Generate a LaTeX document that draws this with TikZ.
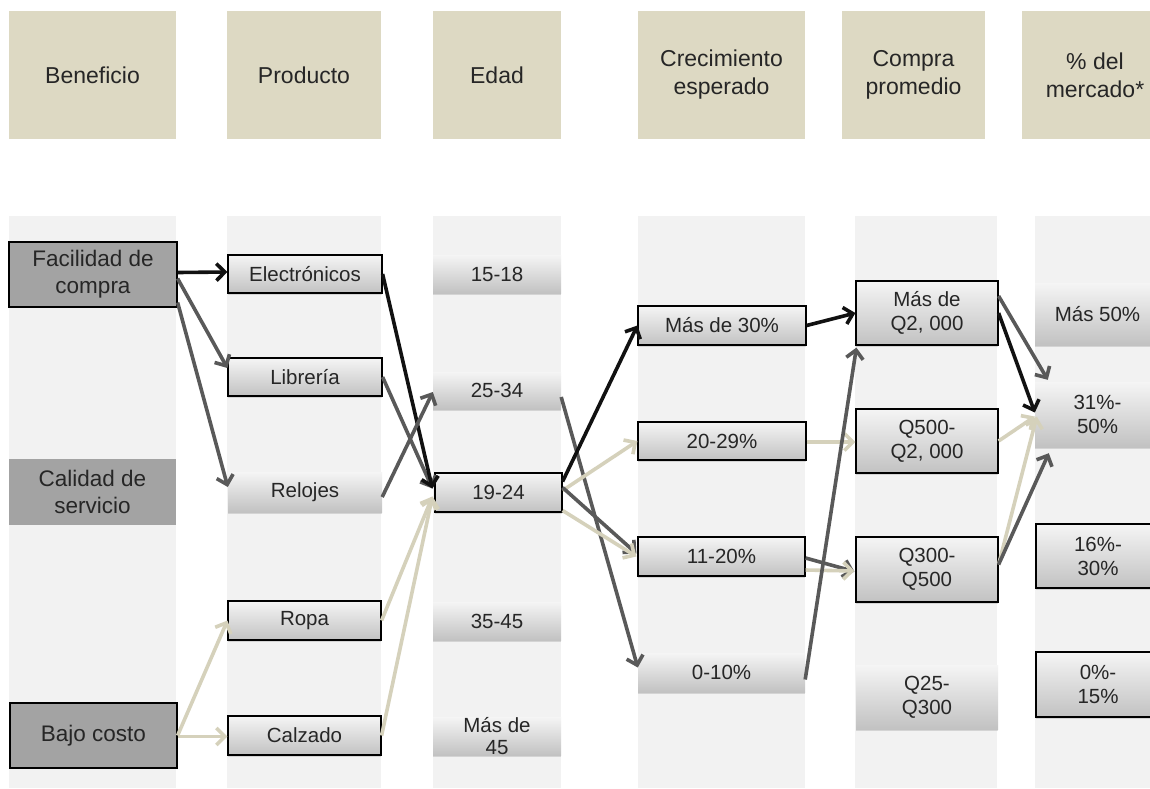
\documentclass[tikz,border=0pt]{standalone}
\usepackage{fontspec}
\setmainfont{Liberation Sans}
\usetikzlibrary{arrows.meta,calc,shadows}
\definecolor{hdr}{HTML}{DDD9C3}
\definecolor{stripc}{HTML}{F2F2F2}
\definecolor{dk}{HTML}{A3A3A3}
\definecolor{agray}{HTML}{595959}
\definecolor{atan}{HTML}{D5D1BB}
\definecolor{ablack}{HTML}{111111}
\definecolor{txt}{HTML}{262626}
\begin{document}
\begin{tikzpicture}[x=1pt,y=-1pt,
  hbox/.style={fill=hdr, inner sep=0pt, align=center, text=txt,
    font=\fontsize{23}{28}\selectfont},
  dbox/.style={fill=dk, inner sep=0pt, align=center, text=txt,
    font=\fontsize{22.5}{27}\selectfont},
  bord/.style={draw=black, line width=1.2pt},
  gbox/.style={top color=white!96!black, bottom color=white!76!black,
    inner sep=0pt, align=center, text=txt,
    font=\fontsize{20.5}{24}\selectfont,
    general shadow={fill=black, opacity=0.12, shadow yshift=-2pt}},
  arr/.style={line width=3.6pt, -{Straight Barb[length=8.5pt,width=17pt]}},
  arrk/.style={arr, draw=ablack},
  arrg/.style={arr, draw=agray},
  arrt/.style={arr, draw=atan}
]
\useasboundingbox (0,0) rectangle (1150,788);
\fill[white] (0,0) rectangle (1150,788);
% column strips
\fill[stripc] (9,216) rectangle (176,788);
\fill[stripc] (227,216) rectangle (381,788);
\fill[stripc] (433,216) rectangle (561,788);
\fill[stripc] (638,216) rectangle (805,788);
\fill[stripc] (855,216) rectangle (997,788);
\fill[stripc] (1035,216) rectangle (1165,788);
% headers
\node[hbox, minimum width=167pt, minimum height=128pt] (h1) at (92.5,75) {Beneficio};
\node[hbox, minimum width=154pt, minimum height=128pt] (h2) at (304,75) {Producto};
\node[hbox, minimum width=128pt, minimum height=128pt] (h3) at (497,75) {Edad};
\node[hbox, minimum width=167pt, minimum height=128pt] (h4) at (721.5,75) {Crecimiento\\esperado};
\node[hbox, minimum width=143pt, minimum height=128pt] (h5) at (913.5,75) {Compra\\promedio};
\node[hbox, minimum width=146pt, minimum height=128pt] (h6) at (1095,75) {\% del\\mercado*};
% Beneficio
\node[dbox, bord, minimum width=168pt, minimum height=65pt] (fac) at (93,274.5) {Facilidad de\\compra};
\node[dbox, minimum width=167pt, minimum height=66pt] (cal) at (92.5,492) {Calidad de\\servicio};
\node[dbox, bord, minimum width=167pt, minimum height=65pt] (baj) at (93.5,735.5) {Bajo costo};
% Producto
\node[gbox, bord, minimum width=154pt, minimum height=38pt] (ele) at (305,274) {Electrónicos};
\node[gbox, bord, minimum width=154pt, minimum height=38pt] (lib) at (305,377) {Librería};
\node[gbox, minimum width=154pt, minimum height=40pt] (rel) at (305,492) {Relojes};
\node[gbox, bord, minimum width=153pt, minimum height=39pt] (rop) at (304.5,620.5) {Ropa};
\node[gbox, bord, minimum width=153pt, minimum height=39pt] (calz) at (304.5,735.5) {Calzado};
% Edad
\node[gbox, minimum width=128pt, minimum height=38pt] (e15) at (497,274) {15-18};
\node[gbox, minimum width=128pt, minimum height=37pt] (e25) at (497,390.5) {25-34};
\node[gbox, bord, minimum width=127pt, minimum height=39pt] (e19) at (498.5,492.5) {19-24};
\node[gbox, minimum width=128pt, minimum height=38pt] (e35) at (497,621) {35-45};
\node[gbox, minimum width=128pt, minimum height=38pt] (e45) at (497,736) {Más de\\[-2pt]45};
% Crecimiento
\node[gbox, bord, minimum width=168pt, minimum height=39pt] (c30) at (722,325.5) {Más de 30\%};
\node[gbox, bord, minimum width=168pt, minimum height=38pt] (c20) at (722,441) {20-29\%};
\node[gbox, bord, minimum width=167pt, minimum height=39pt] (c11) at (721.5,556.5) {11-20\%};
\node[gbox, minimum width=167pt, minimum height=39pt] (c0) at (721.5,672.5) {0-10\%};
% Compra
\node[gbox, bord, minimum width=142pt, minimum height=64pt] (q2000) at (927,313) {Más de\\Q2, 000};
\node[gbox, bord, minimum width=142pt, minimum height=64pt] (q500) at (927,441) {Q500-\\Q2, 000};
\node[gbox, bord, minimum width=142pt, minimum height=65pt] (q300) at (927,569.5) {Q300-\\Q500};
\node[gbox, minimum width=142pt, minimum height=64pt] (q25) at (927,697) {Q25-\\Q300};
% Mercado
\node[gbox, minimum width=125pt, minimum height=62pt] (m50) at (1097.5,314) {Más 50\%};
\node[gbox, minimum width=125pt, minimum height=65pt] (m31) at (1097.5,414.5) {31\%-\\50\%};
\node[gbox, bord, minimum width=124pt, minimum height=64pt] (m16) at (1098,556) {16\%-\\30\%};
\node[gbox, bord, minimum width=124pt, minimum height=65pt] (m0) at (1098,684.5) {0\%-\\15\%};
% arrows
\draw[arrk] ($(fac.east)+(0,-2)$) -- ($(ele.west)+(0,-2)$);
\draw[arrg] ($(fac.east)+(0,4)$) -- ($(lib.west)+(0,-9)$);
\draw[arrg] ($(fac.east)+(0,28)$) -- ($(rel.west)+(0,-5)$);
\draw[arrt] (baj.east) -- (rop.west);
\draw[arrt] ($(baj.east)+(0,1)$) -- ($(calz.west)+(0,1)$);
\draw[arrg] (lib.east) -- ($(e19.west)+(-2,-4)$);
\draw[arrk] (ele.east) -- ($(e19.west)+(-2,-4)$);
\draw[arrg] ($(rel.east)+(0,5)$) -- ($(e25.west)+(0,1.5)$);
\draw[arrt] (rop.east) -- ($(e19.west)+(-2,4)$);
\draw[arrt] (calz.east) -- ($(e19.west)+(-2,4)$);
\draw[arrg] ($(e25.east)+(0,6.5)$) -- ($(c0.west)+(0,-5)$);
\draw[arrt] ($(e19.east)+(0,-2)$) -- (c20.west);
\draw[arrg] ($(e19.east)+(0,-5)$) -- ($(c11.west)+(-1,-3)$);
\draw[arrt] ($(e19.east)+(0,18)$) -- ($(c11.west)+(-1,0)$);
\draw[arrk] ($(e19.east)+(0,-11)$) -- (c30.west);
\draw[arrk] (c30.east) -- (q2000.west);
\draw[arrt] ($(c20.east)+(0,1)$) -- ($(q500.west)+(0,1)$);
\draw[arrg] ($(c11.east)+(0,1.5)$) -- ($(q300.west)+(-1,2)$);
\draw[arrt] ($(c11.east)+(0,13.5)$) -- ($(q300.west)+(-1,1.5)$);
\draw[arrg] ($(c0.east)+(0,7)$) -- ($(q2000.south west)+(1,2)$);
\draw[arrg] ($(q2000.east)+(0,-17)$) -- ($(m31.north west)+(13,-2)$);
\draw[arrt] (q500.east) -- ($(m31.west)+(0,2)$);
\draw[arrt] ($(q300.east)+(0,-5)$) -- ($(m31.west)+(2,2)$);
\draw[arrg] ($(q300.east)+(0,-5)$) -- ($(m31.south west)+(14,6)$);
\draw[arrk] (q2000.east) -- ($(m31.west)+(0,-2)$);
\end{tikzpicture}
\end{document}
